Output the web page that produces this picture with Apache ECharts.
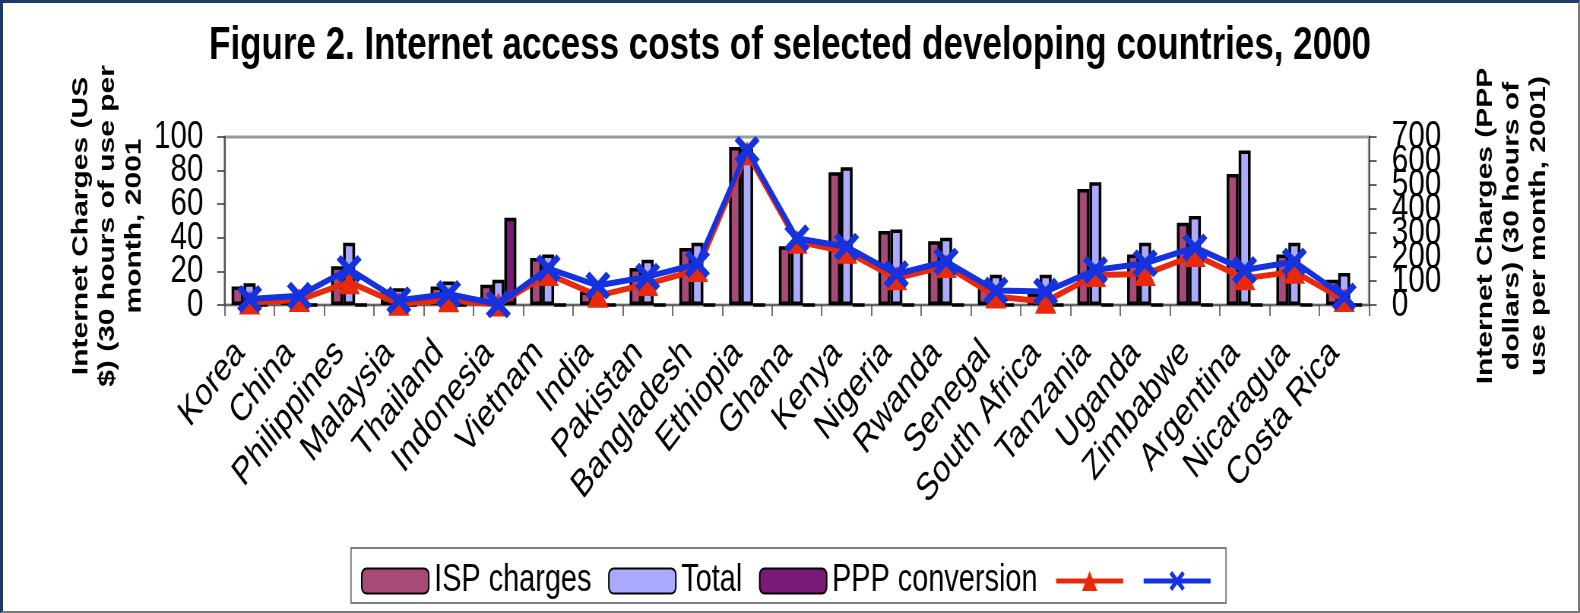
<!DOCTYPE html>
<html>
<head>
<meta charset="utf-8">
<script src="https://cdn.jsdelivr.net/npm/echarts@6/dist/echarts.min.js"></script>
<style>
html,body{margin:0;padding:0;background:#fff;overflow:hidden;width:1580px;height:613px}
#chart{position:absolute;left:0;top:0;width:2079px;height:613px;transform:scaleX(0.76);transform-origin:0 0}
#frame{position:absolute;left:0;top:0;width:1580px;height:613px;box-sizing:border-box;border-top:3px solid #1f3a6a;border-left:3px solid #1f3a6a;border-right:2px solid #7a7a7a;border-bottom:2px solid #7a7a7a;pointer-events:none;z-index:10}
</style>
</head>
<body>
<div id="chart"></div>
<div id="frame"></div>
<script>
var categories = ['Korea','China','Philippines','Malaysia','Thailand','Indonesia','Vietnam','India','Pakistan','Bangladesh','Ethiopia','Ghana','Kenya','Nigeria','Rwanda','Senegal','South Africa','Tanzania','Uganda','Zimbabwe','Argentina','Nicaragua','Costa Rica'];
var ispCharges = [11, 6, 23, 9, 11, 12, 28, 8, 22, 34, 94, 35, 79, 44, 38, 13, 7, 69, 30, 49, 78, 30, 15];
var totalCharges = [13, 7, 37, 10, 14, 15, 30, 11, 27, 37, 93, 37, 82, 45, 40, 18, 18, 73, 37, 53, 92, 37, 19];
var pppConversion = [0, 0, 0, 0, 0, 52, 0, 0, 0, 0, 0, 0, 0, 0, 0, 0, 0, 0, 0, 0, 0, 0, 0];
var redLine = [10, 21, 95, 5, 20, 2, 129, 39, 88, 146, 632, 264, 222, 111, 162, 35, 14, 125, 129, 208, 111, 139, 21];
var blueLine = [25, 39, 150, 20, 46, 3, 153, 81, 118, 171, 646, 278, 243, 129, 181, 60, 56, 146, 174, 240, 146, 181, 35];
var leftTicks = {min: 0, max: 100, interval: 20};
var rightTicks = {min: 0, max: 700, interval: 100};

var S = 0.76;
function u(x){ return x / S; }
var FONT = 'Liberation Sans, Arial, sans-serif';
var xPath = 'path://M0,4 L4,0 L12,8 L20,0 L24,4 L16,12 L24,20 L20,24 L12,16 L4,24 L0,20 L8,12 Z';
var RED = '#e8290b', BLUE = '#1432e0';

// Two overlaid axes per side, each labelling every other tick, so that no label is dropped for overlap.
function valueAxis(ticks, side, show, parity, margin) {
  return {
    type: 'value', position: side, offset: 0,
    min: ticks.min, max: ticks.max, interval: ticks.interval,
    axisLine: {show: show, lineStyle: {color: '#555', width: 2}},
    axisTick: {show: show, length: 10, lineStyle: {color: '#333', width: 1.5}},
    axisLabel: {fontSize: 39, color: '#000', fontFamily: FONT, margin: margin,
      showMinLabel: true, showMaxLabel: true,
      formatter: function (v) { return ((Math.round(v / ticks.interval)) % 2 === parity) ? String(v) : ''; }},
    splitLine: {show: false}
  };
}

var chart = echarts.init(document.getElementById('chart'), null, {renderer: 'canvas'});
var option = {
  animation: false,
  backgroundColor: '#fff',
  title: {
    text: 'Figure 2. Internet access costs of selected developing countries, 2000',
    left: 'center', top: 18,
    textStyle: {fontSize: 46, fontWeight: 'bold', fontFamily: FONT, color: '#000'}
  },
  grid: {
    left: u(224.7), right: 2079 - u(1369), top: 137, bottom: 613 - 305,
    show: true, borderColor: '#9a9a9a', borderWidth: 3, backgroundColor: 'transparent'
  },
  legend: {
    left: u(361), top: 562, padding: 0,
    itemWidth: u(67), itemHeight: 25, itemGap: 22,
    data: ['ISP charges', 'Total', 'PPP conversion',
      {name: 'red', lineStyle: {width: 5, color: RED}},
      {name: 'blue', lineStyle: {width: 5, color: BLUE}}],
    formatter: function (n) { return (n === 'red' || n === 'blue') ? '' : n; },
    textStyle: {fontSize: 38, color: '#000', fontFamily: FONT, padding: [0, 0, 0, 2]}
  },
  xAxis: {
    type: 'category', data: categories,
    axisLine: {lineStyle: {color: '#666', width: 2}},
    axisTick: {show: true, length: 11, lineStyle: {color: '#444', width: 1.5}},
    axisLabel: {rotate: 45, interval: 0, fontSize: 39, color: '#000', fontFamily: FONT, margin: 29,
      padding: [0, 18, 0, 0]}
  },
  yAxis: [
    valueAxis(leftTicks, 'left', true, 0, 28),
    valueAxis(leftTicks, 'left', false, 1, 28),
    valueAxis(rightTicks, 'right', true, 1, 30),
    valueAxis(rightTicks, 'right', false, 0, 30)
  ],
  graphic: [
    {type: 'text', x: u(108), y: 226, rotation: Math.PI / 2,
      style: {text: 'Internet Charges (US\n$) (30 hours of use per\nmonth, 2001', fontSize: 30, fontWeight: 'bold',
        fontFamily: FONT, fill: '#000', align: 'center', verticalAlign: 'middle', lineHeight: 35}},
    {type: 'text', x: u(1512), y: 226, rotation: Math.PI / 2,
      style: {text: 'Internet Charges (PPP\ndollars) (30 hours of\nuse per month, 2001)', fontSize: 30, fontWeight: 'bold',
        fontFamily: FONT, fill: '#000', align: 'center', verticalAlign: 'middle', lineHeight: 35}},
    {type: 'rect', shape: {x: u(351), y: 548, width: u(1226) - u(351), height: 55},
      style: {fill: 'none', stroke: '#808080', lineWidth: 2}, z: -1}
  ],
  series: [
    {name: 'ISP charges', type: 'bar', yAxisIndex: 0, data: ispCharges, barWidth: u(12), barGap: '0%',
      itemStyle: {color: '#a84a78', borderColor: '#000', borderWidth: 3.5}},
    {name: 'Total', type: 'bar', yAxisIndex: 0, data: totalCharges, barWidth: u(12), barGap: '0%',
      itemStyle: {color: '#aaaaff', borderColor: '#000', borderWidth: 3.5}},
    {name: 'PPP conversion', type: 'bar', yAxisIndex: 0, data: pppConversion, barWidth: u(12), barGap: '0%',
      itemStyle: {color: '#7a1a76', borderColor: '#000', borderWidth: 3.5}},
    {name: 'red', type: 'line', yAxisIndex: 2, data: redLine, z: 5,
      symbol: 'triangle', symbolSize: [28, 24],
      lineStyle: {color: RED, width: 6}, itemStyle: {color: RED}},
    {name: 'blue', type: 'line', yAxisIndex: 2, data: blueLine, z: 6,
      symbol: xPath, symbolSize: [33, 28],
      lineStyle: {color: BLUE, width: 6}, itemStyle: {color: BLUE}}
  ]
};
chart.setOption(option);
</script>
</body>
</html>
